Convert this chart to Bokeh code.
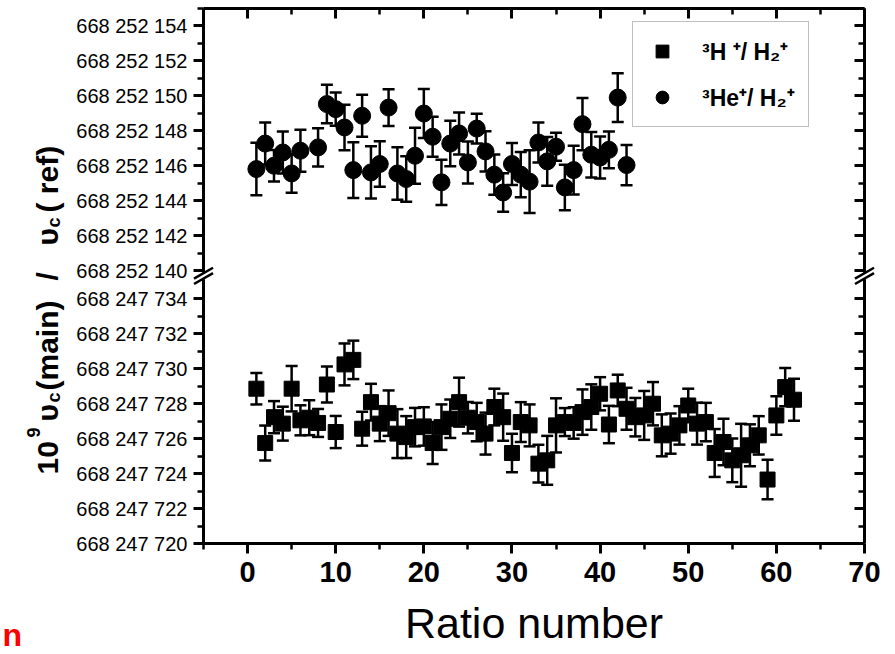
from math import pi
from bokeh.plotting import figure
from bokeh.models import (ColumnDataSource, Whisker, TeeHead, FixedTicker, LinearAxis,
                          Range1d, Legend, LegendItem)
from bokeh.core.properties import value
from bokeh.embed import file_html
from bokeh.resources import INLINE

FONT = "Liberation Sans"

# ---------------- data ----------------
# 3He+/H2+ : values are the last digits of 668 252 1xx
he_ratio = [1, 2, 3, 4, 5, 6, 8, 9, 10, 11, 12, 13, 14, 15, 16, 17, 18, 19, 20, 21, 22,
            23, 24, 25, 26, 27, 28, 29, 30, 31, 32, 33, 34, 35, 36, 37, 38, 39, 40, 41, 42, 43]
he_value = [145.81, 147.27, 146.00, 146.76, 145.56, 146.86, 147.05, 149.53, 149.24, 148.19,
            145.75, 148.86, 145.62, 146.10, 149.33, 145.56, 145.24, 146.57, 148.99, 147.66,
            145.05, 147.27, 147.85, 146.19, 148.13, 146.82, 145.49, 144.47, 146.10, 145.49,
            145.09, 147.33, 146.25, 147.09, 144.76, 145.75, 148.38, 146.63, 146.47, 146.91,
            149.90, 146.04]
he_err = [1.5, 1.2, 0.9, 1.2, 1.1, 1.2, 1.1, 1.1, 0.95, 1.3, 1.6, 1.2, 1.5, 1.3, 1.05, 1.5,
          1.3, 1.6, 1.4, 1.15, 1.3, 1.3, 1.2, 1.2, 0.85, 1.15, 1.15, 1.1, 1.2, 1.3, 1.8, 1.15,
          1.4, 0.8, 1.3, 1.4, 1.5, 1.3, 1.2, 1.05, 1.4, 1.15]

# 3H+/H2+ : values are the last digits of 668 247 7xx
h_ratio = list(range(1, 63))
h_value = [728.86, 725.75, 727.23, 726.86, 728.86, 727.05, 727.20, 726.90, 729.10, 726.38,
           730.25, 730.51, 726.57, 728.09, 726.86, 727.46, 726.29, 726.09, 726.66, 726.70,
           725.75, 726.66, 727.14, 728.09, 727.20, 726.95, 726.29, 727.81, 727.23, 725.18,
           726.95, 726.76, 724.57, 724.76, 726.76, 726.95, 726.90, 727.52, 727.81, 728.57,
           726.81, 728.76, 727.71, 727.23, 727.33, 728.00, 726.19, 726.29, 726.76, 727.90,
           726.86, 726.95, 725.18, 725.81, 724.76, 725.05, 725.62, 726.19, 723.66, 727.33,
           728.95, 728.23]
h_err = [0.9, 1.0, 0.92, 0.97, 1.3, 0.86, 1.0, 0.8, 1.03, 0.92, 1.2, 1.1, 0.97, 1.05, 1.0,
         1.3, 1.4, 1.2, 1.1, 1.1, 1.2, 1.3, 1.1, 1.4, 0.9, 1.1, 1.2, 1.05, 1.35, 1.1, 1.14,
         1.2, 1.08, 1.4, 1.55, 0.8, 0.9, 1.3, 1.3, 0.95, 1.07, 0.9, 1.2, 1.1, 1.4, 1.24, 1.2,
         1.15, 1.1, 0.96, 1.2, 1.1, 1.37, 1.33, 1.25, 1.8, 1.2, 1.1, 1.13, 1.1, 1.1, 1.2]

lower_ticks = [720, 722, 724, 726, 728, 730, 732, 734]
upper_ticks = [140, 142, 144, 146, 148, 150, 152, 154]
lower_prefix = "668 247"
upper_prefix = "668 252"
x_ticks = [0, 10, 20, 30, 40, 50, 60, 70]
x_minor = [-5, 5, 15, 25, 35, 45, 55, 65]

h_label = "³H ⁺/ H₂⁺"
he_label = "³He⁺/ H₂⁺"

# ---------------- broken y scale ----------------
LOWER_MIN, LOWER_MAX = 720.0, 734.0
UPPER_MIN, UPPER_MAX = 140.0, 155.0
GAP = 1.62


def ly(v):
    return v - LOWER_MIN


def uy(v):
    return (LOWER_MAX - LOWER_MIN) + GAP + (v - UPPER_MIN)


Y_TOP = uy(UPPER_MAX)
X_MIN, X_MAX = -5, 70

he_src = ColumnDataSource(dict(
    x=he_ratio,
    y=[uy(v) for v in he_value],
    lo=[uy(v - e) for v, e in zip(he_value, he_err)],
    hi=[uy(v + e) for v, e in zip(he_value, he_err)],
))
h_src = ColumnDataSource(dict(
    x=h_ratio,
    y=[ly(v) for v in h_value],
    lo=[ly(v - e) for v, e in zip(h_value, h_err)],
    hi=[ly(v + e) for v, e in zip(h_value, h_err)],
))

# frame geometry (canvas pixels)
FL, FR, FT, FB = 203, 864, 8, 543
W, H = 895, 654

p = figure(width=W, height=H, x_range=Range1d(X_MIN, X_MAX), y_range=Range1d(0, Y_TOP),
           output_backend="svg", toolbar_location=None,
           x_axis_location=None, y_axis_location=None,
           min_border_left=FL, min_border_right=W - FR, min_border_top=FT,
           min_border_bottom=H - FB)
p.outline_line_color = None
p.grid.visible = False
p.background_fill_color = "white"
p.border_fill_color = "white"


def px_x(px):
    return X_MIN + (px - FL) * (X_MAX - X_MIN) / (FR - FL)


def px_y(py):
    return (FB - py) * Y_TOP / (FB - FT)


# ---------------- axes ----------------
y_major = [round(ly(t), 3) for t in lower_ticks] + [round(uy(t), 3) for t in upper_ticks]
y_minor = [round(ly(t + 1), 3) for t in lower_ticks[:-1]] + \
          [round(uy(t + 1), 3) for t in upper_ticks]
overrides = {}
for t in lower_ticks:
    overrides[round(ly(t), 3)] = f"{lower_prefix} {t}"
for t in upper_ticks:
    overrides[round(uy(t), 3)] = f"{upper_prefix} {t}"

y_ticker = FixedTicker(ticks=y_major, minor_ticks=y_minor)
x_ticker = FixedTicker(ticks=x_ticks, minor_ticks=x_minor)


def style(ax, inward):
    ax.axis_line_width = 3
    ax.axis_line_color = "black"
    ax.major_tick_line_width = 3
    ax.minor_tick_line_width = 2.5
    ax.major_label_text_color = "black"
    if inward:
        ax.major_tick_in, ax.major_tick_out = 10, 0
        ax.minor_tick_in, ax.minor_tick_out = 6, 0
        ax.major_label_text_color = None
        ax.major_label_text_font_size = "1px"
    else:
        ax.major_tick_in, ax.major_tick_out = 0, 10
        ax.minor_tick_in, ax.minor_tick_out = 0, 6


left = LinearAxis(ticker=y_ticker, major_label_overrides=overrides)
style(left, False)
left.major_label_text_font = FONT
left.major_label_text_font_size = "20px"
left.major_label_standoff = 6
p.add_layout(left, "left")

right = LinearAxis(ticker=y_ticker)
style(right, True)
p.add_layout(right, "right")

bottom = LinearAxis(ticker=x_ticker, axis_label="Ratio number")
style(bottom, False)
bottom.major_label_text_font = FONT
bottom.major_label_text_font_style = "bold"
bottom.major_label_text_font_size = "29px"
bottom.major_label_standoff = 8
bottom.axis_label_text_font = FONT
bottom.axis_label_text_font_style = "normal"
bottom.axis_label_text_font_size = "43px"
bottom.axis_label_text_color = "black"
bottom.axis_label_standoff = 14
p.add_layout(bottom, "below")

top = LinearAxis(ticker=x_ticker)
style(top, True)
p.add_layout(top, "above")

# ---------------- data ----------------
head = dict(size=12, line_width=2.5, line_color="black")
p.add_layout(Whisker(source=h_src, base="x", upper="hi", lower="lo", dimension="height",
                     line_width=2.5, line_color="black",
                     upper_head=TeeHead(**head), lower_head=TeeHead(**head)))
p.add_layout(Whisker(source=he_src, base="x", upper="hi", lower="lo", dimension="height",
                     line_width=2.5, line_color="black",
                     upper_head=TeeHead(**head), lower_head=TeeHead(**head)))
sq = p.scatter("x", "y", source=h_src, marker="square", size=15, color="black")
ci = p.scatter("x", "y", source=he_src, marker="circle", size=17, color="black")

legend = Legend(items=[LegendItem(label=h_label, renderers=[sq]),
                       LegendItem(label=he_label, renderers=[ci])],
                location=(429, 416))
legend.label_text_font = FONT
legend.label_text_font_style = "bold"
legend.label_text_font_size = "23px"
legend.label_text_color = "black"
legend.border_line_color = "#808080"
legend.border_line_width = 1.5
legend.padding = 13
legend.spacing = 14
legend.glyph_height = 32
legend.glyph_width = 32
legend.label_height = 32
legend.label_standoff = 24
legend.margin = 0
p.add_layout(legend)

# ---------------- axis break marks ----------------
b1, b2 = 15.16, 15.47
dx, dy = 1.08, 0.31
for xb in (X_MIN, X_MAX):
    p.quad(left=[xb - 0.3], right=[xb + 0.3], bottom=[b1], top=[b2],
           color="white", level="overlay")
    p.segment(x0=[xb - dx, xb - dx], y0=[b1 - dy, b2 - dy],
              x1=[xb + dx, xb + dx], y1=[b1 + dy, b2 + dy],
              line_width=2.5, line_color="black", level="overlay")

# ---------------- y title (rotated, with super/subscripts) ----------------
title_parts = [
    ("10", 474, 47, "30px"),
    ("9", 437, 33, "18px"),
    ("υ", 421, 47, "30px"),
    ("c", 402, 53, "18px"),
    ("(main)", 390, 47, "30px"),
    ("/", 280, 47, "30px"),
    ("υ", 245, 47, "30px"),
    ("c", 227, 53, "18px"),
    ("( ref)", 212, 47, "30px"),
]
title_src = ColumnDataSource(dict(
    x=[px_x(b) for _, _, b, _ in title_parts],
    y=[px_y(s) for _, s, _, _ in title_parts],
    text=[t for t, _, _, _ in title_parts],
    fs=[f for _, _, _, f in title_parts],
))
p.text(x="x", y="y", text="text", source=title_src, angle=pi / 2,
       text_font=value(FONT), text_font_style="bold", text_font_size="fs",
       text_color="black", text_baseline="alphabetic", text_align="left",
       level="overlay")

p.text(x=[px_x(2)], y=[px_y(634)], text=["n"], text_font=value(FONT),
       text_font_style="bold", text_font_size="32px", text_color="#ff0000",
       text_baseline="alphabetic", text_align="left", level="overlay")

open("out.html", "w").write(file_html(p, INLINE))
